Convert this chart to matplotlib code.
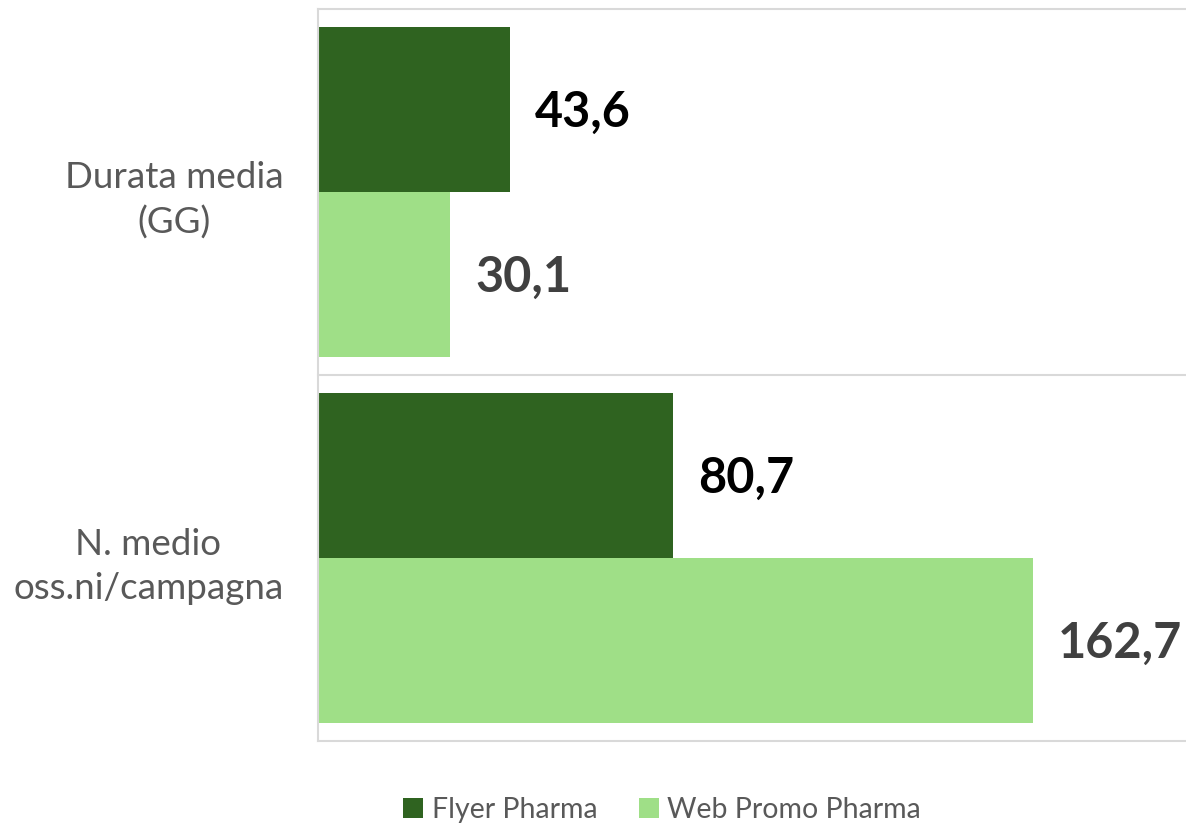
import matplotlib.pyplot as plt
import numpy as np

categories = ['Durata media\n(GG)', 'N. medio\noss.ni/campagna']
flyer = [43.6, 80.7]
web = [30.1, 162.7]
series_names = ['Flyer Pharma', 'Web Promo Pharma']

dark = '#2f6320'
light = '#9fdf87'
grid_col = '#d9d9d9'

plt.rcParams['font.family'] = ['Lato', 'DejaVu Sans']

fig = plt.figure(figsize=(11.86, 8.25), dpi=100)
ax = fig.add_axes([318 / 1186, 1 - 741 / 825, 1 - 318 / 1186, (741 - 9) / 825])

y = np.arange(len(categories))
h = 0.45
b1 = ax.barh(y - h / 2, flyer, height=h, color=dark, label=series_names[0])
b2 = ax.barh(y + h / 2, web, height=h, color=light, label=series_names[1])

for bar, val in zip(b1, flyer):
    ax.annotate(f'{val:.1f}'.replace('.', ','), (bar.get_width(), bar.get_y() + bar.get_height() / 2),
                xytext=(18, -2), textcoords='offset points', va='center', ha='left',
                fontsize=35, fontweight='bold', color='black')
for bar, val in zip(b2, web):
    ax.annotate(f'{val:.1f}'.replace('.', ','), (bar.get_width(), bar.get_y() + bar.get_height() / 2),
                xytext=(18, -2), textcoords='offset points', va='center', ha='left',
                fontsize=35, fontweight='bold', color='#404040')

ax.set_xlim(0, 197.5)
ax.set_ylim(1.5, -0.5)
ax.set_yticks(y)
ax.set_yticklabels(categories, fontsize=26.5, color='#595959', multialignment='center', linespacing=1.4)
ax.tick_params(axis='y', length=0, pad=25)
ax.set_xticks([])

for sp in ['top', 'right', 'bottom']:
    ax.spines[sp].set_visible(False)
ax.spines['left'].set_color(grid_col)
ax.spines['left'].set_linewidth(1.5)
for yy in [-0.5, 0.5, 1.5]:
    ax.axhline(yy, color=grid_col, lw=1.5, clip_on=False, zorder=0)

fig.legend(handles=[b1, b2], labels=series_names, loc='center', bbox_to_anchor=(662 / 1186, 1 - 810 / 825),
           ncol=2, frameon=False, fontsize=20.5, labelcolor='#595959',
           handlelength=0.7, handleheight=0.7, handletextpad=0.3, columnspacing=1.45)

fig.savefig('out.png', dpi=100)
